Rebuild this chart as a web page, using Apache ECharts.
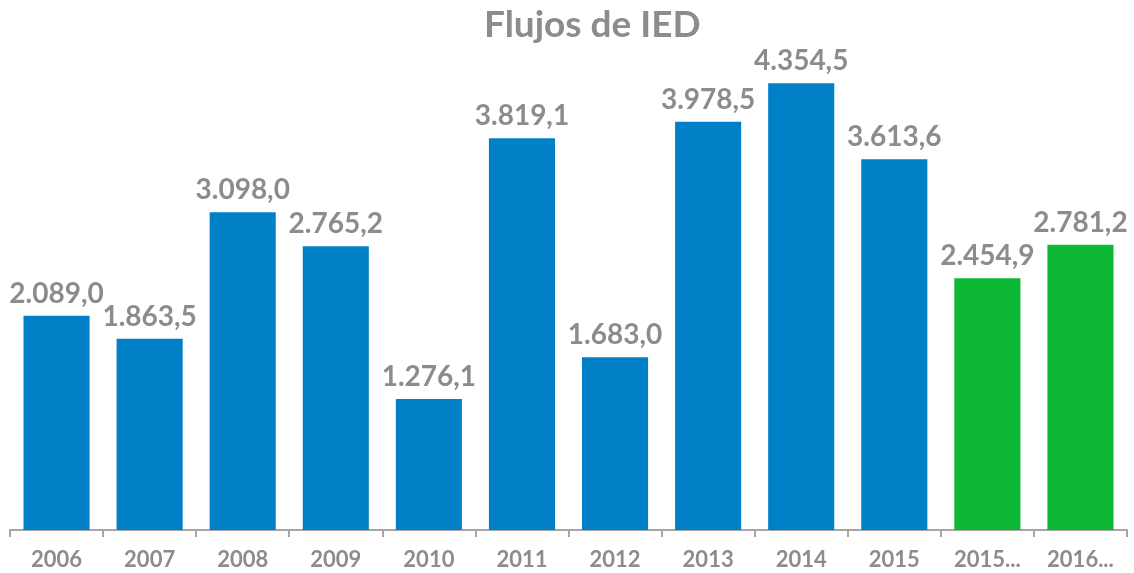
<!DOCTYPE html>
<html>
<head>
    <meta charset="utf-8">
    <title>Flujos de IED</title>
    <script src="https://cdn.jsdelivr.net/npm/echarts@6/dist/echarts.min.js"></script>
    <style>
        html, body { margin: 0; padding: 0; background: #fff; }
        #chart { width: 1134px; height: 573px; }
    </style>
</head>
<body>
<div id="chart"></div>
<script>
    // datos
    var years = ['2006', '2007', '2008', '2009', '2010', '2011', '2012', '2013', '2014', '2015', '2015...', '2016...'];
    var flows = [2089.0, 1863.5, 3098.0, 2765.2, 1276.1, 3819.1, 1683.0, 3978.5, 4354.5, 3613.6, 2454.9, 2781.2];
    var greenFrom = 10; // las dos ultimas barras en verde

    var blue = '#0080C6';
    var green = '#0DB835';
    var grey = '#8C8C8C';

    // 2089 -> "2.089,0"
    function fmt(v) {
        var parts = v.toFixed(1).split('.');
        var ent = parts[0].replace(/\B(?=(\d{3})+(?!\d))/g, '.');
        return ent + ',' + parts[1];
    }

    var chart = echarts.init(document.getElementById('chart'));
    chart.setOption({
        animation: false,
        title: {
            text: 'Flujos de IED',
            left: 479,
            top: 2,
            textStyle: { color: grey, fontSize: 37, fontWeight: 'bold', fontFamily: 'Lato' }
        },
        grid: { left: 10, right: 7, top: 17, bottom: 43 },
        xAxis: {
            type: 'category',
            data: years,
            axisLine: { lineStyle: { color: '#A6A6A6', width: 2 } },
            axisTick: { show: true, length: 7, lineStyle: { color: '#A6A6A6', width: 2 } },
            axisLabel: { color: grey, fontSize: 22, fontWeight: 'bold', fontFamily: 'Lato', margin: 19 }
        },
        yAxis: {
            type: 'value',
            min: 0,
            max: 5000,
            show: false,
            splitLine: { show: false }
        },
        series: [{
            type: 'bar',
            barWidth: '71%',
            data: flows.map(function (v, i) {
                return { value: v, itemStyle: { color: i >= greenFrom ? green : blue } };
            }),
            label: {
                show: true,
                position: 'top',
                distance: 8,
                color: grey,
                fontSize: 28,
                fontWeight: 'bold',
                fontFamily: 'Lato',
                formatter: function (p) { return fmt(p.value); }
            }
        }]
    });
</script>
</body>
</html>
